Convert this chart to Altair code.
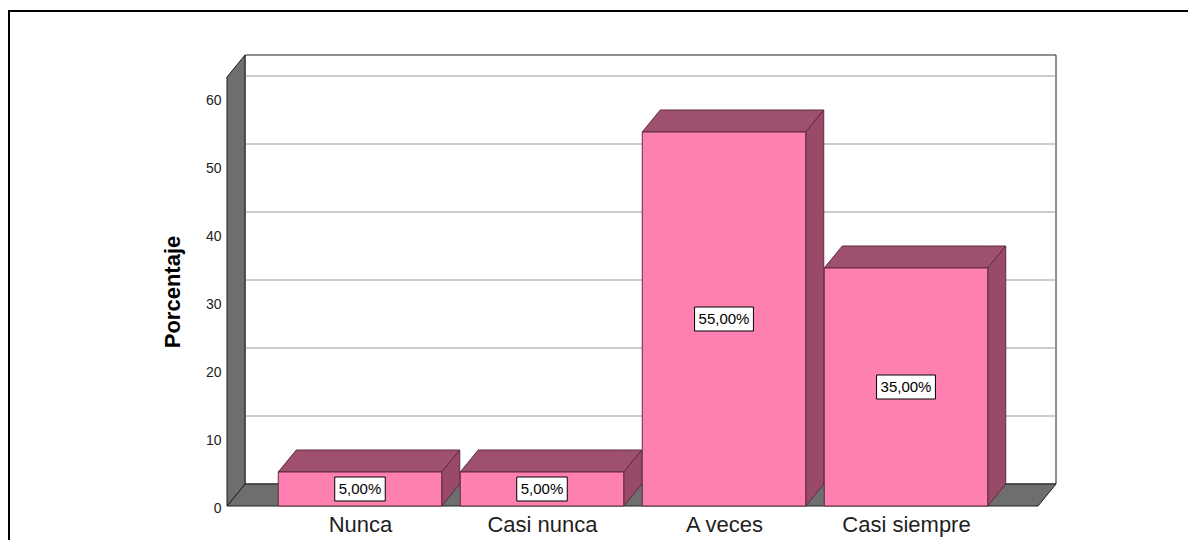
import json
import altair as alt
import pandas as pd

# ---- data ----
categories = ["Nunca", "Casi nunca", "A veces", "Casi siempre"]
percentages = [5.0, 5.0, 55.0, 35.0]
y_ticks = [0, 10, 20, 30, 40, 50, 60]

# ---- layout / style constants ----
W, H = 811, 429
STEP = 182.0            # px per category slot
PX_PER_PCT = 6.8        # px per percent
X_MIN = -133 / STEP
X_MAX = X_MIN + W / STEP
Y_MAX = H / PX_PER_PCT
DX = 18 / STEP          # 3D depth, x direction
DY = 22 / PX_PER_PCT    # 3D depth, y direction
BW = 163.5 / STEP       # bar width

FRONT = "#fd80b0"
TOP = "#a0506f"
SIDE = "#9a4a69"
EDGE = "#5e2a40"
WALL = "#6e6e6e"
FONT = "Liberation Sans"

xs = alt.Scale(domain=[X_MIN, X_MAX], nice=False, zero=False)
ys = alt.Scale(domain=[0, Y_MAX], nice=False, zero=False)

label_expr = json.dumps(categories) + "[round(datum.value)]"
x_axis = alt.Axis(values=list(range(len(categories))), labelExpr=label_expr,
                  domain=False, ticks=False, grid=False, labelFontSize=22,
                  labelFont=FONT, labelColor="#1e1e1e", labelPadding=8,
                  title=None, labelOverlap=False, labelFlush=False)
y_axis = alt.Axis(values=y_ticks, domain=False, ticks=False, grid=False,
                  labelFontSize=14, labelFont=FONT, labelColor="#222222",
                  labelPadding=6, labelOffset=2, title="Porcentaje", titleFont=FONT,
                  titleFontSize=22, titleFontWeight="bold", titleColor="black",
                  titlePadding=21)


def X(f="x"):
    return alt.X(f"{f}:Q", scale=xs, axis=x_axis)


def Y(f="y"):
    return alt.Y(f"{f}:Q", scale=ys, axis=y_axis)


# ---- geometry tables built from the data ----
back = pd.DataFrame([dict(x=X_MIN + DX, x2=X_MAX + DX, y=DY, y2=Y_MAX + DY)])
grid = pd.DataFrame([dict(x=X_MIN + DX, x2=X_MAX + DX, y=t + DY) for t in y_ticks[1:]])
floor = pd.DataFrame([
    dict(g=0, x=X_MIN, y=0, y2=0),
    dict(g=0, x=X_MIN + DX, y=0, y2=DY),
    dict(g=0, x=X_MAX, y=0, y2=DY),
    dict(g=0, x=X_MAX + DX, y=DY, y2=DY),
])
wall = pd.DataFrame([
    dict(g=0, x=X_MIN, y=0, y2=Y_MAX),
    dict(g=0, x=X_MIN + DX, y=DY, y2=Y_MAX + DY),
])

top_rows, side_rows, front_rows, lab_rows = [], [], [], []
for i, p in enumerate(percentages):
    x0, x1 = i - BW / 2, i + BW / 2
    top_rows += [
        dict(g=i, x=x0, y=p, y2=p),
        dict(g=i, x=x0 + DX, y=p, y2=p + DY),
        dict(g=i, x=x1, y=p, y2=p + DY),
        dict(g=i, x=x1 + DX, y=p + DY, y2=p + DY),
    ]
    side_rows += [
        dict(g=i, x=x1, y=0, y2=p),
        dict(g=i, x=x1 + DX, y=DY, y2=p + DY),
    ]
    front_rows.append(dict(x=x0, x2=x1, y=p, y2=0))
    lab_rows.append(dict(x=i, pct=p))

tops = pd.DataFrame(top_rows)
sides = pd.DataFrame(side_rows)
fronts = pd.DataFrame(front_rows)
labs = pd.DataFrame(lab_rows)

# ---- layers ----
frame = alt.Chart(pd.DataFrame([{"a": 0}])).mark_rect(
    filled=False, stroke="black", strokeWidth=2
).encode(x=alt.value(-218), x2=alt.value(W + 400), y=alt.value(-66), y2=alt.value(H + 300))

back_l = alt.Chart(back).mark_rect(fill="white", stroke="#222222", strokeWidth=1).encode(
    x=X(), x2="x2:Q", y=Y(), y2="y2:Q")
grid_l = alt.Chart(grid).mark_rule(color="#9a9a9a", strokeWidth=1).encode(
    x=X(), x2="x2:Q", y=Y())
floor_l = alt.Chart(floor).mark_area(fill=WALL, stroke="#1e1e1e", strokeWidth=1).encode(
    x=X(), y=Y(), y2="y2:Q", detail="g:N")
wall_l = alt.Chart(wall).mark_area(fill=WALL, stroke="#1e1e1e", strokeWidth=1).encode(
    x=X(), y=Y(), y2="y2:Q", detail="g:N")
top_l = alt.Chart(tops).mark_area(fill=TOP, stroke=EDGE, strokeWidth=1).encode(
    x=X(), y=Y(), y2="y2:Q", detail="g:N")
side_l = alt.Chart(sides).mark_area(fill=SIDE, stroke=EDGE, strokeWidth=1).encode(
    x=X(), y=Y(), y2="y2:Q", detail="g:N")
front_l = alt.Chart(fronts).mark_rect(fill=FRONT, stroke=EDGE, strokeWidth=1).encode(
    x=X(), x2="x2:Q", y=Y(), y2="y2:Q")

lab_base = alt.Chart(labs).transform_calculate(
    mid="datum.pct / 2",
    label="replace(format(datum.pct, '.2f'), '.', ',') + '%'",
).transform_calculate(
    bw="15 * (0.556 * (length(datum.label) - 2) + 1.167) + 8",
).transform_calculate(
    r="24 / datum.bw",
    bs="datum.bw * datum.bw",
).transform_calculate(
    bp="'M-1,' + (-datum.r) + 'L1,' + (-datum.r) + 'L1,' + datum.r + 'L-1,' + datum.r + 'Z'"
)
box_l = lab_base.mark_point(filled=True, fill="white", stroke="black", strokeWidth=1,
                            opacity=1).encode(
    x=X(), y=Y("mid"), shape=alt.Shape("bp:N", scale=None, legend=None),
    size=alt.Size("bs:Q", scale=None, legend=None))
text_l = lab_base.mark_text(font=FONT, fontSize=15, color="black").encode(
    x=X(), y=Y("mid"), text="label:N")

chart = alt.layer(
    frame, back_l, grid_l, floor_l, wall_l, top_l, side_l, front_l, box_l, text_l
).properties(
    width=W, height=H,
    autosize=alt.AutoSizeParams(type="none"),
    padding={"left": 219, "top": 69, "right": 150, "bottom": 40},
    background="white",
).configure_view(stroke=None)

chart.save("out.html", embed_options={"renderer": "svg", "actions": False})
